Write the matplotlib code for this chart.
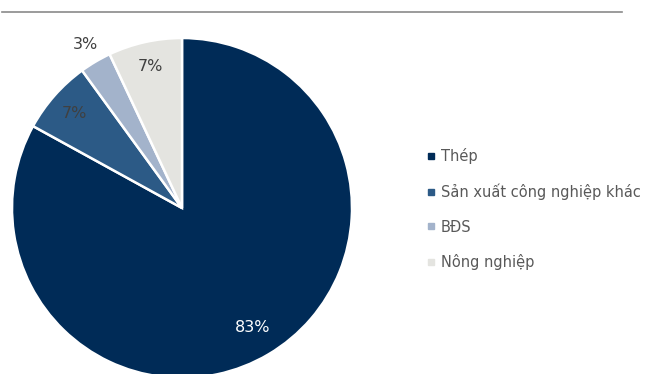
"""Revenue breakdown by sector as a pie chart with side legend."""

import matplotlib.pyplot as plt
import numpy as np
from matplotlib.lines import Line2D

OUTPUT_NAME = "out.png"

SECTORS = ["Thép", "Sản xuất công nghiệp khác", "BĐS", "Nông nghiệp"]
SHARES = [83, 7, 3, 7]
COLORS = ["#002b57", "#2c5a86", "#a3b3cb", "#e4e4e0"]
LABEL_COLORS = ["white", "#404040", "#404040", "#404040"]
# radial position of each percentage label (fraction of the radius)
LABEL_RADIUS = [0.82, 0.84, 1.12, 0.85]

TEXT_GREY = "#595959"


def main() -> None:
    """Draw the pie and save it."""
    plt.rcParams["font.family"] = ["DejaVu Sans"]
    fig = plt.figure(figsize=(6.55, 3.74), dpi=100)

    # thin rule across the top
    fig.add_artist(Line2D([0.003, 0.95], [0.968, 0.968], color="#8a8a8a", lw=1.2))

    ax = fig.add_axes([12 / 655, -4 / 374, 340 / 655, 340 / 374])
    wedges, _ = ax.pie(
        SHARES,
        colors=COLORS,
        startangle=90,
        counterclock=False,
        radius=1,
        wedgeprops={"edgecolor": "white", "linewidth": 1.8},
    )
    ax.set_xlim(-1, 1)
    ax.set_ylim(-1, 1)
    ax.set_aspect("equal")
    ax.axis("off")

    for wedge, share, r, tc in zip(wedges, SHARES, LABEL_RADIUS, LABEL_COLORS):
        mid = np.deg2rad((wedge.theta1 + wedge.theta2) / 2)
        ax.text(r * np.cos(mid), r * np.sin(mid), f"{share}%",
                ha="center", va="center", fontsize=11.5, color=tc)

    handles = [
        Line2D([], [], marker="s", linestyle="", color=c, markersize=5)
        for c in COLORS
    ]
    fig.legend(
        handles, SECTORS,
        loc="center left",
        bbox_to_anchor=(413 / 655, 1 - 209 / 374),
        frameon=False,
        fontsize=10.5,
        labelcolor=TEXT_GREY,
        handlelength=0.6,
        handletextpad=0.4,
        labelspacing=1.35,
    )

    fig.savefig(OUTPUT_NAME, dpi=100)


if __name__ == "__main__":
    main()
